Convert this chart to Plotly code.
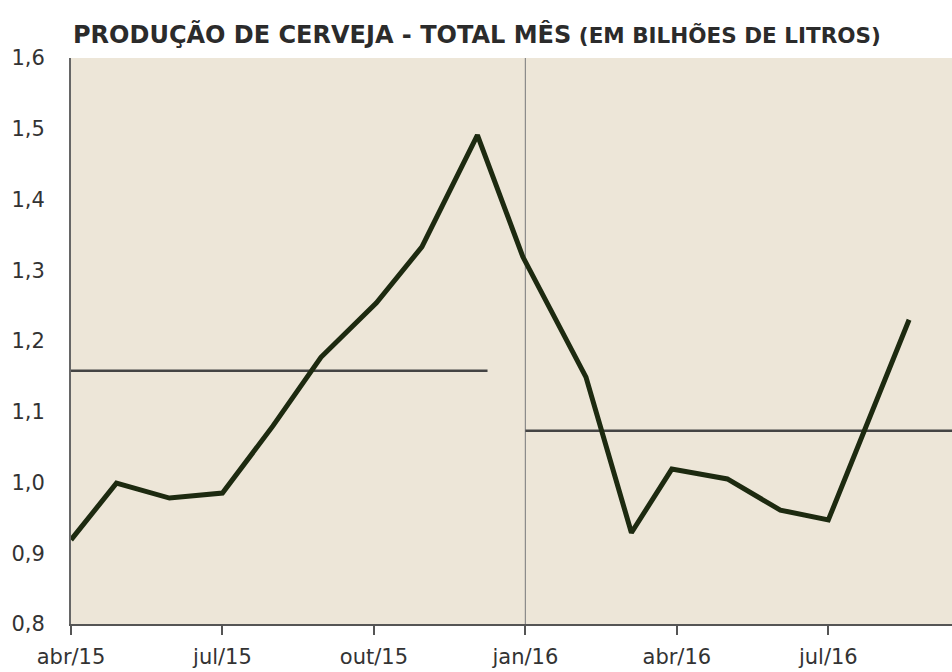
import plotly.graph_objects as go

# Month positions (months since abr/15) and production values (billion litres)
month_pos = [0, 0.9, 1.95, 3.0, 4.0, 4.95, 6.05, 6.95, 8.05, 8.95, 10.2, 11.1, 11.9, 13.0, 14.05, 15.0, 16.6]
production = [0.919, 0.999, 0.978, 0.985, 1.08, 1.177, 1.254, 1.333, 1.491, 1.319, 1.149, 0.929, 1.019, 1.005, 0.961, 0.947, 1.230]

# Yearly averages (start, end in months, value)
avg_2015_x = [0, 8.25]
avg_2015_y = [1.158, 1.158]
avg_2016_x = [9, 17.45]
avg_2016_y = [1.073, 1.073]

year_break = 9  # jan/16

tick_pos = [0, 3, 6, 9, 12, 15]
tick_labels = ["abr/15", "jul/15", "out/15", "jan/16", "abr/16", "jul/16"]

x_range = [0, 17.45]
y_range = [0.8, 1.6]

FONT = "DejaVu Sans, sans-serif"

fig = go.Figure()

fig.add_shape(type="line", x0=year_break, x1=year_break, y0=y_range[0], y1=y_range[1],
              xref="x", yref="y", line=dict(color="#8a8a8a", width=1.2), layer="below")

fig.add_trace(go.Scatter(x=avg_2015_x, y=avg_2015_y, mode="lines",
                         line=dict(color="#444444", width=2.5), hoverinfo="skip"))
fig.add_trace(go.Scatter(x=avg_2016_x, y=avg_2016_y, mode="lines",
                         line=dict(color="#444444", width=2.5), hoverinfo="skip"))
fig.add_trace(go.Scatter(x=month_pos, y=production, mode="lines",
                         line=dict(color="#1d2a10", width=5)))

fig.add_annotation(
    text="<b>PRODUÇÃO DE CERVEJA - TOTAL MÊS</b> <b><span style='font-size:21.5px'>(EM BILHÕES DE LITROS)</span></b>",
    xref="paper", yref="paper", x=0, y=1, xanchor="left", yanchor="bottom", yshift=7,
    showarrow=False, font=dict(family=FONT, size=24, color="#2b2b2b"))

fig.update_layout(
    width=952, height=672,
    margin=dict(l=71, r=0, t=58, b=48),
    paper_bgcolor="white",
    plot_bgcolor="#ede6d8",
    showlegend=False,
    separators=",.",
    font=dict(family=FONT, size=22, color="#333333"),
)
fig.update_xaxes(range=x_range, tickvals=tick_pos, ticktext=tick_labels,
                 showgrid=False, zeroline=False, showline=True, linecolor="#555555", linewidth=2,
                 ticks="outside", ticklen=9, tickwidth=2, tickcolor="#555555",
                 ticklabelstandoff=4, tickfont=dict(size=21, color="#333333"))
fig.update_yaxes(range=y_range, dtick=0.1, tick0=0.8, tickformat=".1f",
                 showgrid=False, zeroline=False, showline=True, linecolor="#666666", linewidth=2,
                 ticks="", ticklabelstandoff=20, tickfont=dict(size=21, color="#333333"))

fig.write_html("out.html", config={"displayModeBar": False},
               post_script="document.body.style.margin='0';document.body.style.overflow='hidden';")
